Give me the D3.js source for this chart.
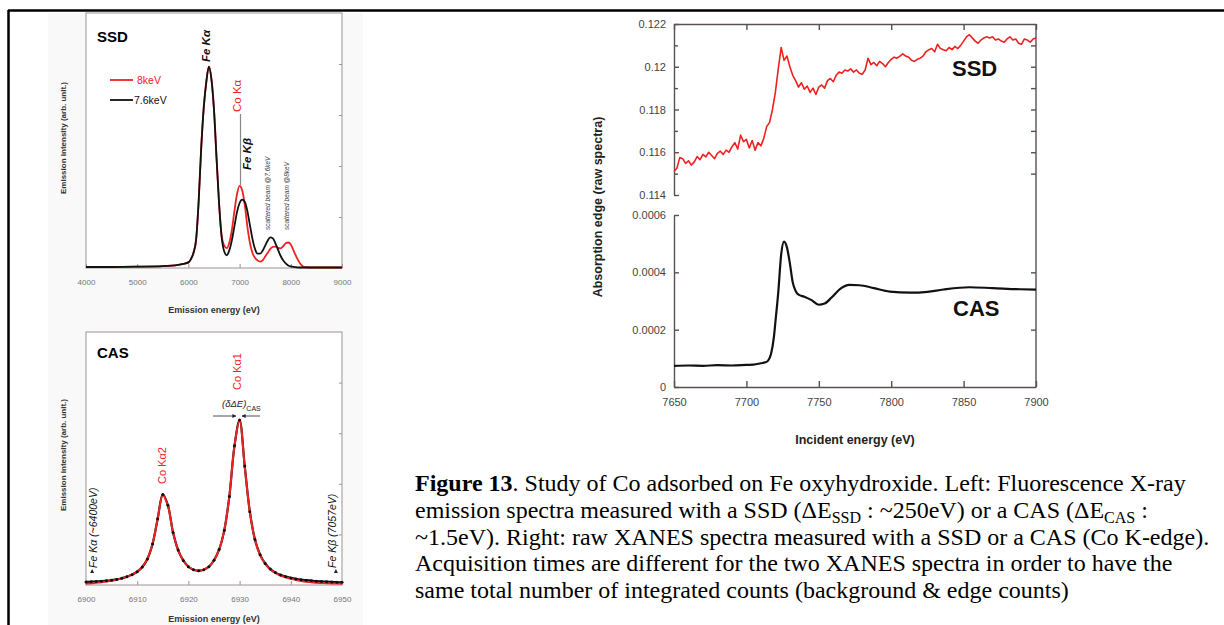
<!DOCTYPE html>
<html><head><meta charset="utf-8">
<script src="https://cdn.jsdelivr.net/npm/d3@7"></script>
<style>body{margin:0;background:#fff}svg{display:block;font-family:"Liberation Sans",Arial,sans-serif}</style>
</head><body>
<svg id="c" width="1224" height="625"></svg>
<script>
// ---------- SSD emission spectra (left top) ----------
const ssdEnergy = [4000,4500,5000,5500,5800,5900,6000,6050,6100,6150,6200,6250,6300,6350,6400,6450,6500,6550,6600,6650,6700,6750,6800,6850,6900,6950,7000,7050,7100,7150,7200,7250,7300,7350,7400,7450,7500,7550,7600,7650,7700,7750,7800,7850,7900,7950,8000,8050,8100,8150,8200,8250,8300,8500,9000];
const ssd76keV = [0.004,0.004,0.005,0.007,0.012,0.016,0.022,0.035,0.06,0.11,0.26,0.47,0.63,0.73,0.79,0.74,0.62,0.43,0.25,0.12,0.065,0.05,0.07,0.11,0.165,0.22,0.255,0.268,0.26,0.225,0.17,0.115,0.075,0.056,0.056,0.068,0.088,0.108,0.12,0.116,0.097,0.072,0.048,0.03,0.018,0.01,0.006,0.004,0.003,0.002,0.002,0.002,0.002,0.002,0.002];
const ssd8keV  = [0.004,0.004,0.005,0.007,0.012,0.016,0.022,0.035,0.06,0.11,0.26,0.47,0.63,0.73,0.79,0.74,0.62,0.43,0.25,0.125,0.088,0.078,0.1,0.15,0.225,0.29,0.322,0.305,0.25,0.165,0.1,0.06,0.04,0.03,0.025,0.03,0.045,0.06,0.075,0.083,0.084,0.079,0.077,0.085,0.097,0.1,0.092,0.07,0.048,0.028,0.013,0.005,0.003,0.002,0.002];
const ssdTicks = [4000,5000,6000,7000,8000,9000];

// ---------- CAS emission spectrum (left bottom) ----------
const casEnergy = d3.range(6900,6951,1);
const casData = [0.012,0.013,0.014,0.015,0.017,0.019,0.022,0.027,0.033,0.041,0.052,0.071,0.103,0.162,0.262,0.358,0.315,0.208,0.138,0.097,0.072,0.06,0.056,0.06,0.072,0.098,0.14,0.215,0.35,0.55,0.652,0.47,0.29,0.18,0.12,0.085,0.063,0.049,0.04,0.033,0.028,0.024,0.021,0.019,0.017,0.015,0.014,0.013,0.012,0.011,0.011];
const casFit  = [0.006,0.007,0.009,0.011,0.014,0.017,0.021,0.026,0.033,0.042,0.054,0.073,0.105,0.164,0.262,0.356,0.313,0.207,0.137,0.097,0.073,0.061,0.057,0.061,0.073,0.099,0.141,0.216,0.351,0.55,0.65,0.468,0.288,0.178,0.118,0.083,0.061,0.047,0.037,0.03,0.025,0.02,0.016,0.013,0.011,0.009,0.008,0.007,0.006,0.006,0.005];
const casTicks = [6900,6910,6920,6930,6940,6950];

// ---------- XANES (right) ----------
const xanesSsdEnergy = d3.range(7650,7901,2);
const xanesSsd = [0.11510,0.11525,0.11575,0.11570,0.11548,0.11560,0.11540,0.11555,0.11580,0.11565,0.11590,0.11578,0.11600,0.11585,0.11570,0.11595,0.11605,0.11590,0.11610,0.11600,0.11625,0.11645,0.11615,0.11680,0.11650,0.11660,0.11620,0.11655,0.11610,0.11645,0.11630,0.11665,0.11720,0.11740,0.11800,0.11880,0.11990,0.12090,0.12030,0.12050,0.12000,0.11960,0.11935,0.11905,0.11925,0.11895,0.11910,0.11880,0.11900,0.11870,0.11905,0.11915,0.11900,0.11935,0.11945,0.11930,0.11960,0.11975,0.11970,0.11985,0.11980,0.11990,0.11975,0.11985,0.11970,0.11965,0.11985,0.12040,0.12010,0.12020,0.12005,0.12025,0.12015,0.12000,0.12020,0.12035,0.12045,0.12040,0.12050,0.12060,0.12050,0.12045,0.12030,0.12025,0.12035,0.12040,0.12050,0.12070,0.12080,0.12085,0.12070,0.12105,0.12085,0.12080,0.12075,0.12090,0.12080,0.12095,0.12085,0.12100,0.12120,0.12140,0.12150,0.12135,0.12120,0.12110,0.12125,0.12135,0.12140,0.12135,0.12140,0.12125,0.12130,0.12120,0.12115,0.12130,0.12140,0.12125,0.12130,0.12110,0.12105,0.12130,0.12125,0.12115,0.12130,0.12135];
const xanesCasEnergy = [7650,7660,7670,7680,7690,7700,7705,7710,7713,7715,7717,7719,7720,7722,7724,7726,7728,7730,7732,7734,7736,7740,7745,7750,7754,7759,7765,7771,7778,7788,7799,7813,7825,7836,7854,7870,7889,7900];
const xanesCas = [0.000074,0.000075,0.000074,0.000076,0.000075,0.000077,0.000078,0.000083,0.000086,0.000092,0.000115,0.000175,0.000225,0.000330,0.000462,0.000507,0.000487,0.000432,0.000365,0.000335,0.000322,0.000315,0.000303,0.000287,0.000291,0.000313,0.000343,0.000356,0.000355,0.000345,0.000333,0.000329,0.000332,0.000340,0.000348,0.000345,0.000341,0.000340];
const xanesXTicks = [7650,7700,7750,7800,7850,7900];
const ssdYTicks = [0.114,0.116,0.118,0.120,0.122];
const casYTicks = [0,0.0002,0.0004,0.0006];

const svg = d3.select("#c");

// outer frame
svg.append("line").attr("x1",8).attr("x2",1224).attr("y1",10.5).attr("y2",10.5).attr("stroke","#000").attr("stroke-width",2.5);
svg.append("line").attr("x1",8.5).attr("x2",8.5).attr("y1",10).attr("y2",625).attr("stroke","#000").attr("stroke-width",2.5);

// faint scan background for left panels
svg.append("rect").attr("x",48).attr("y",13).attr("width",315).attr("height",612).attr("fill","#f9f9f9");

function leftPanel(x, y, ticks, fmt, yTop, yBot){
  svg.append("rect").attr("x",x.range()[0]).attr("y",yTop).attr("width",x.range()[1]-x.range()[0]).attr("height",yBot-yTop)
    .attr("fill","#fff").attr("stroke","#9c9494").attr("stroke-width",1);
  const g = svg.append("g").attr("transform",`translate(0,${yBot})`)
    .call(d3.axisBottom(x).tickValues(ticks).tickSize(-4).tickSizeOuter(0).tickPadding(11).tickFormat(fmt));
  g.select(".domain").remove();
  g.selectAll("line").attr("stroke","#9c9494");
  g.selectAll("text").attr("fill","#777").attr("font-size",8);
  const gr = svg.append("g").attr("transform",`translate(${x.range()[1]},0)`)
    .call(d3.axisRight(y).tickValues([0.2,0.4,0.6,0.8]).tickSize(-3).tickFormat(""));
  gr.select(".domain").remove();
  gr.selectAll("line").attr("stroke","#9c9494");
}

// ---------- SSD emission ----------
const xE = d3.scaleLinear([4000,9000],[86,342]);
const yE = d3.scaleLinear([0,1],[268,13]);
leftPanel(xE, yE, ssdTicks, d3.format("d"), 13, 268);
const lineE = (arr)=> d3.line().x((d,i)=>xE(ssdEnergy[i])).y(d=>yE(d)).curve(d3.curveMonotoneX)(arr);
svg.append("path").attr("d",lineE(ssd8keV)).attr("fill","none").attr("stroke","#ee2222").attr("stroke-width",1.8);
svg.append("path").attr("d",lineE(ssd76keV)).attr("fill","none").attr("stroke","#111").attr("stroke-width",1.8);
svg.append("text").attr("x",97).attr("y",42).attr("font-size",15).attr("font-weight","bold").text("SSD");
// legend
svg.append("line").attr("x1",110).attr("x2",133).attr("y1",80).attr("y2",80).attr("stroke","#ee2222").attr("stroke-width",1.8);
svg.append("text").attr("x",137).attr("y",84).attr("font-size",10.5).attr("fill","#ee2222").text("8keV");
svg.append("line").attr("x1",110).attr("x2",133).attr("y1",100).attr("y2",100).attr("stroke","#111").attr("stroke-width",1.8);
svg.append("text").attr("x",134).attr("y",104).attr("font-size",10.5).attr("fill","#111").text("7.6keV");
function vtext(x,y,t,opts){
  const el = svg.append("text").attr("transform",`translate(${x},${y}) rotate(-90)`).attr("font-size",opts.size||10)
    .attr("fill",opts.fill||"#111").attr("font-style",opts.italic?"italic":null).attr("font-weight",opts.bold?"bold":null)
    .attr("text-anchor",opts.anchor||"start").text(t);
  return el;
}
vtext(xE(6420),62,"Fe Kα",{size:11.5,italic:true,bold:true});
vtext(xE(7030),112,"Co Kα",{size:11.5,fill:"#ee2222"});
svg.append("line").attr("x1",240.5).attr("x2",240.5).attr("y1",114).attr("y2",185).attr("stroke","#888").attr("stroke-width",1.2);
vtext(xE(7230),170,"Fe Kβ",{size:11.5,italic:true,bold:true});
vtext(xE(7600),230,"scattered beam @7.6keV",{size:6.5,italic:true,fill:"#444"});
vtext(xE(7970),230,"scattered beam @8keV",{size:6.5,italic:true,fill:"#444"});
svg.append("text").attr("x",214).attr("y",313).attr("text-anchor","middle").attr("font-size",9).attr("font-weight","bold").attr("fill","#333").text("Emission energy (eV)");
vtext(66,138,"Emission intensity (arb. unit.)",{size:8,bold:true,anchor:"middle",fill:"#333"});

// ---------- CAS emission ----------
const xC = d3.scaleLinear([6900,6950],[86,342]);
const yC = d3.scaleLinear([0,1],[585,332]);
leftPanel(xC, yC, casTicks, d3.format("d"), 332, 585);
svg.append("path").attr("d",d3.line().x((d,i)=>xC(casEnergy[i])).y(d=>yC(d)).curve(d3.curveCatmullRom)(casData))
  .attr("fill","none").attr("stroke","#111").attr("stroke-width",2.2);
svg.append("path").attr("d",d3.line().x((d,i)=>xC(casEnergy[i])).y(d=>yC(d)).curve(d3.curveCatmullRom)(casFit))
  .attr("fill","none").attr("stroke","#ee2222").attr("stroke-width",2);
svg.append("g").selectAll("circle").data(casData).join("circle")
  .attr("cx",(d,i)=>xC(casEnergy[i])).attr("cy",d=>yC(d)).attr("r",1.5).attr("fill","#111");
svg.append("text").attr("x",97).attr("y",358).attr("font-size",15).attr("font-weight","bold").text("CAS");
vtext(xC(6915.6),484,"Co Kα2",{size:11,fill:"#ee2222"});
vtext(xC(6930.3),390,"Co Kα1",{size:11,fill:"#ee2222"});
const dl = svg.append("text").attr("x",222).attr("y",407).attr("font-size",9.5).attr("font-style","italic").attr("fill","#222");
dl.append("tspan").text("(δΔE)");
dl.append("tspan").attr("dy",4).attr("font-size",7).attr("font-style","normal").text("CAS");
svg.append("defs").html('<marker id="ah" viewBox="0 0 10 10" refX="9" refY="5" markerWidth="5" markerHeight="5" orient="auto"><path d="M0,0L10,5L0,10z" fill="#222"/></marker>');
svg.append("line").attr("x1",213).attr("x2",236).attr("y1",416).attr("y2",416).attr("stroke","#222").attr("stroke-width",0.8).attr("marker-end","url(#ah)");
svg.append("line").attr("x1",260).attr("x2",242).attr("y1",416).attr("y2",416).attr("stroke","#222").attr("stroke-width",0.8).attr("marker-end","url(#ah)");
vtext(xC(6902.2),568,"Fe Kα (~6400eV)",{size:10.5,italic:true});
vtext(xC(6948.8),568,"Fe Kβ (7057eV)",{size:10.5,italic:true});
svg.append("path").attr("d",`M${xC(6901.2)},569l-2,4l4,0z`).attr("fill","#222");
svg.append("path").attr("d",`M${xC(6948.8)},569l2,4l-4,0z`).attr("fill","#222");
svg.append("text").attr("x",214).attr("y",622).attr("text-anchor","middle").attr("font-size",9).attr("font-weight","bold").attr("fill","#333").text("Emission energy (eV)");
vtext(66,455,"Emission intensity (arb. unit.)",{size:8,bold:true,anchor:"middle",fill:"#333"});

// ---------- XANES ----------
const axisCol = "#5a5050";
const xX = d3.scaleLinear([7650,7900],[674,1036]);
const ySsd = d3.scaleLinear([0.114,0.122],[195,24]);
const yCas = d3.scaleLinear([0,0.0006],[387,215]);
function style(g){ g.selectAll("line,path").attr("stroke",axisCol).attr("stroke-width",1.4); g.selectAll("text").attr("fill","#444").attr("font-size",11).attr("font-family","Liberation Sans, Arial, sans-serif"); }
svg.append("g").attr("transform","translate(674,0)").call(d3.axisLeft(ySsd).tickValues(ssdYTicks).tickSize(-5).tickSizeOuter(0).tickPadding(8).tickFormat(d3.format(".3~f"))).call(style);
svg.append("g").attr("transform","translate(674,0)").call(d3.axisLeft(ySsd).tickValues([0.115,0.117,0.119,0.121]).tickSize(-4).tickSizeOuter(0).tickFormat("")).call(style).select(".domain").remove();
svg.append("g").attr("transform","translate(674,0)").call(d3.axisLeft(yCas).tickValues(casYTicks).tickSize(-5).tickSizeOuter(0).tickPadding(8).tickFormat(d3.format(".4~f"))).call(style);
svg.append("g").attr("transform","translate(0,387)").call(d3.axisBottom(xX).tickValues(xanesXTicks).tickSize(-6).tickSizeOuter(0).tickPadding(11).tickFormat(d3.format("d"))).call(style);
svg.append("g").attr("transform","translate(0,24)").call(d3.axisTop(xX).tickValues(xanesXTicks).tickSize(-6).tickSizeOuter(0).tickFormat("")).call(style);
svg.append("line").attr("x1",1036).attr("x2",1036).attr("y1",24).attr("y2",387).attr("stroke",axisCol).attr("stroke-width",1.4);
svg.append("g").attr("transform","translate(1036,0)").call(d3.axisRight(ySsd).tickValues([0.115,0.116,0.117,0.118,0.119,0.120,0.121]).tickSize(-5).tickFormat("")).call(style).select(".domain").remove();
svg.append("g").attr("transform","translate(1036,0)").call(d3.axisRight(yCas).tickValues([0.0002,0.0004]).tickSize(-5).tickFormat("")).call(style).select(".domain").remove();

svg.append("path").attr("d",d3.line().x((d,i)=>xX(xanesSsdEnergy[i])).y(d=>ySsd(d))(xanesSsd))
  .attr("fill","none").attr("stroke","#ee2020").attr("stroke-width",1.6).attr("stroke-linejoin","round");
svg.append("path").attr("d",d3.line().x((d,i)=>xX(xanesCasEnergy[i])).y(d=>yCas(d)).curve(d3.curveMonotoneX)(xanesCas))
  .attr("fill","none").attr("stroke","#111").attr("stroke-width",2.2);
svg.append("text").attr("x",952).attr("y",76).attr("font-size",22).attr("font-weight","bold").attr("fill","#111").text("SSD");
svg.append("text").attr("x",953).attr("y",316).attr("font-size",22).attr("font-weight","bold").attr("fill","#111").text("CAS");
svg.append("text").attr("x",855).attr("y",444).attr("text-anchor","middle").attr("font-size",12.5).attr("font-weight","bold").attr("fill","#222").text("Incident energy (eV)");
svg.append("text").attr("transform","translate(602,207) rotate(-90)").attr("text-anchor","middle").attr("font-size",12.5).attr("font-weight","bold").attr("fill","#222").text("Absorption edge (raw spectra)");

// ---------- caption ----------
const cap = svg.append("text").attr("font-family","Liberation Serif, Times New Roman, serif").attr("font-size",24).attr("fill","#000");
const L = [491,518,545,571,598];
cap.append("tspan").attr("x",415).attr("y",L[0]).attr("font-weight","bold").text("Figure 13");
cap.append("tspan").text(". Study of Co adsorbed on Fe oxyhydroxide. Left: Fluorescence X-ray");
cap.append("tspan").attr("x",415).attr("y",L[1]).text("emission spectra measured with a SSD (ΔE");
cap.append("tspan").attr("dy",5).attr("font-size",16).text("SSD");
cap.append("tspan").attr("dy",-5).text(" : ~250eV) or a CAS (ΔE");
cap.append("tspan").attr("dy",5).attr("font-size",16).text("CAS");
cap.append("tspan").attr("dy",-5).text(" :");
cap.append("tspan").attr("x",415).attr("y",L[2]).text("~1.5eV). Right: raw XANES spectra measured with a SSD or a CAS (Co K-edge).");
cap.append("tspan").attr("x",415).attr("y",L[3]).text("Acquisition times are different for the two XANES spectra in order to have the");
cap.append("tspan").attr("x",415).attr("y",L[4]).text("same total number of integrated counts (background & edge counts)");
</script>
</body></html>
